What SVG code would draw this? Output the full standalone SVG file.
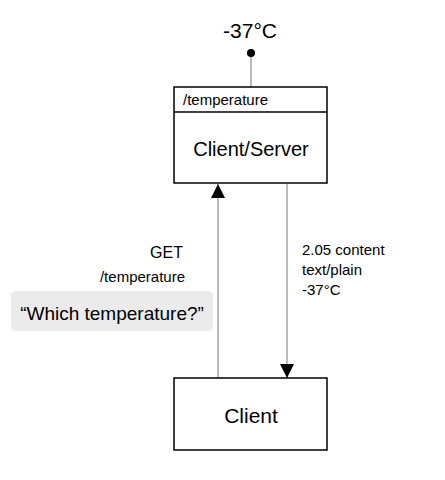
<svg xmlns="http://www.w3.org/2000/svg" width="445" height="480" viewBox="0 0 445 480">
<style>
text{font-family:"Liberation Sans",Arial,sans-serif;fill:#000}
.box{fill:#fff;stroke:#000;stroke-width:1.5}
.conn{stroke:#777;stroke-width:1;fill:none}
</style>
<defs>
<marker id="tri" viewBox="0 0 14 14" refX="14" refY="7" markerWidth="14" markerHeight="14" markerUnits="userSpaceOnUse" orient="auto">
<path d="M0,0 L14,7 L0,14 Z" fill="#000"/>
</marker>
</defs>
<rect width="445" height="480" fill="#fff"/>
<g id="connectors">
<line class="conn" x1="251" y1="53" x2="251" y2="87"/>
<circle cx="251" cy="53" r="4" fill="#000"/>
<line class="conn" x1="218" y1="378" x2="218" y2="184" marker-end="url(#tri)"/>
<line class="conn" x1="287" y1="184" x2="287" y2="378" marker-end="url(#tri)"/>
</g>
<g id="value">
<text x="250" y="38" font-size="21" text-anchor="middle">-37°C</text>
</g>
<g id="server">
<rect class="box" x="174" y="87" width="153" height="96"/>
<line x1="174" y1="112" x2="327" y2="112" stroke="#000" stroke-width="1.5"/>
<text x="183" y="105" font-size="15">/temperature</text>
<text x="251" y="156" font-size="20" text-anchor="middle">Client/Server</text>
</g>
<g id="request-label">
<text x="183" y="258" font-size="16" text-anchor="end">GET</text>
<text x="185" y="282" font-size="15" text-anchor="end">/temperature</text>
<rect x="11" y="291" width="202" height="40" rx="5" fill="#ebebeb"/>
<text x="112" y="320" font-size="19" text-anchor="middle">“Which temperature?”</text>
</g>
<g id="response-label">
<text x="302" y="255" font-size="15">2.05 content</text>
<text x="302" y="275" font-size="15">text/plain</text>
<text x="302" y="295" font-size="15">-37°C</text>
</g>
<g id="client">
<rect class="box" x="174" y="378" width="153" height="72"/>
<text x="251" y="423" font-size="21" text-anchor="middle">Client</text>
</g>
</svg>
